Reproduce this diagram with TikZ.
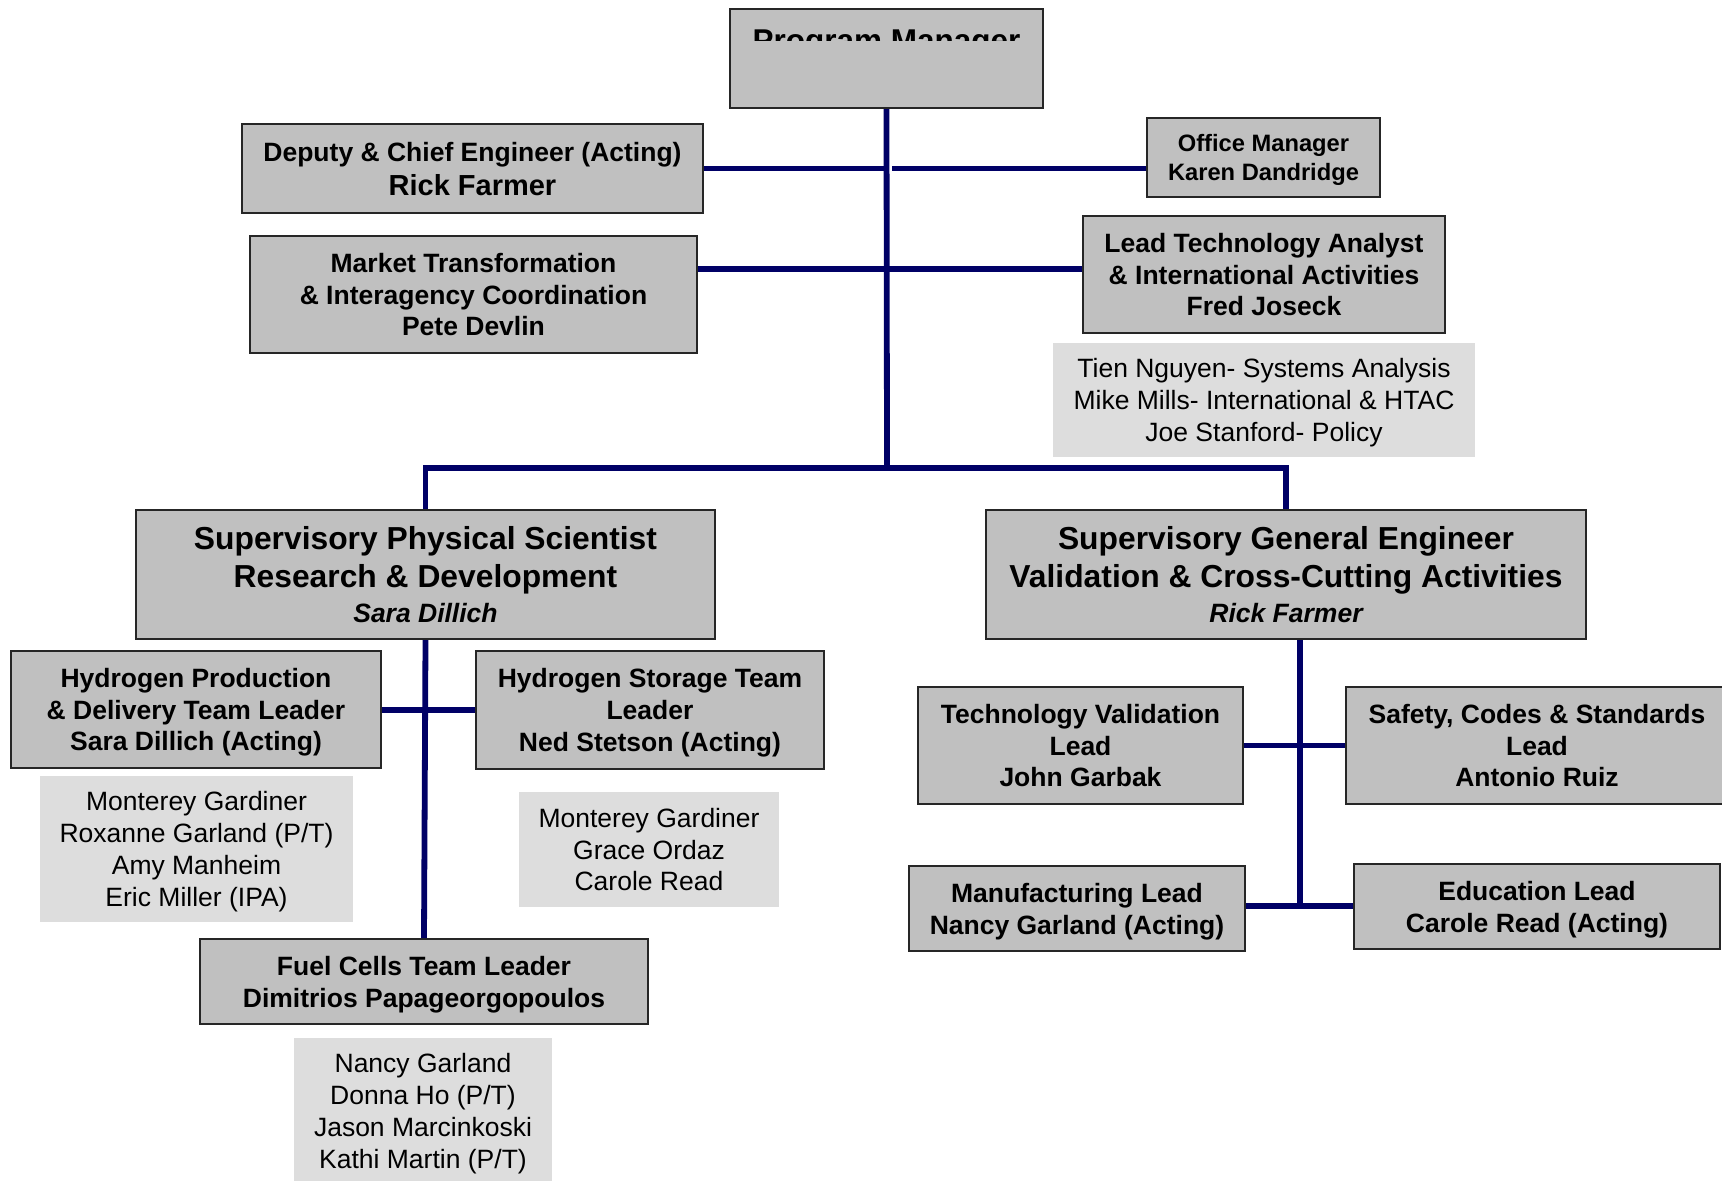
\documentclass[tikz,border=0pt]{standalone}
\usepackage{fontspec}
\setmainfont{Liberation Sans}
\usetikzlibrary{positioning}
\definecolor{boxgray}{RGB}{192,192,192}
\definecolor{staffgray}{RGB}{221,221,221}
\definecolor{linknavy}{RGB}{0,0,102}

\begin{document}
\begin{tikzpicture}[
    x=1pt, y=-1pt,
    box/.style={draw=black!85, line width=2pt, fill=boxgray, align=center, inner sep=0pt,
      text depth=0pt, font=\fontsize{26.5}{31.8}\selectfont\bfseries},
    staff/.style={fill=staffgray, align=center, inner sep=0pt,
      text depth=0pt, font=\fontsize{26.5}{31.8}\selectfont},
    head/.style={box, font=\fontsize{31.8}{38.4}\selectfont\bfseries},
    link/.style={draw=linknavy, line width=5.8pt}
  ]
    \useasboundingbox (0,0) rectangle (1722,1181);

    % top level
    \node[box, minimum width=313pt, minimum height=99pt] (pm) at (886.5,58.5) {};
    \begin{scope}
      \clip (730,9) rectangle (1043,40);
      \node[anchor=base, font=\fontsize{31.5}{38}\selectfont\bfseries] (pmtext) at (886.5,51) {Program Manager};
    \end{scope}
    \node[box, minimum width=461pt, minimum height=89pt] (deputy) at (472.5,168.5)
      {Deputy \& Chief Engineer (Acting)\\[2pt]{\fontsize{29}{34}\selectfont Rick Farmer}};
    \node[box, minimum width=233pt, minimum height=79pt, font=\fontsize{23.7}{28.5}\selectfont\bfseries]
      (office) at (1263.5,157.5) {Office Manager\\Karen Dandridge};
    \node[box, minimum width=447pt, minimum height=117pt] (market) at (473.5,294.5)
      {Market Transformation\\\& Interagency Coordination\\Pete Devlin};
    \node[box, minimum width=362pt, minimum height=117pt] (lta) at (1264,274.5)
      {Lead Technology Analyst\\\& International Activities\\Fred Joseck};
    \node[staff, minimum width=422pt, minimum height=114pt] (ltastaff) at (1264,400)
      {Tien Nguyen- Systems Analysis\\Mike Mills- International \& HTAC\\Joe Stanford- Policy};

    % supervisors
    \node[head, minimum width=579pt, minimum height=129pt] (sps) at (425.5,574.5)
      {Supervisory Physical Scientist\\Research \& Development\\[-3.4pt]{\fontsize{26.5}{31.8}\selectfont\itshape Sara Dillich}};
    \node[head, minimum width=600pt, minimum height=129pt] (sge) at (1286,574.5)
      {Supervisory General Engineer\\Validation \& Cross-Cutting Activities\\[-3.4pt]{\fontsize{26.5}{31.8}\selectfont\itshape Rick Farmer}};

    % research and development
    \node[box, minimum width=370pt, minimum height=117pt] (hpd) at (196,709.5)
      {Hydrogen Production\\\& Delivery Team Leader\\Sara Dillich (Acting)};
    \node[box, minimum width=348pt, minimum height=118pt] (hs) at (650,710)
      {Hydrogen Storage Team\\Leader\\Ned Stetson (Acting)};
    \node[staff, minimum width=313pt, minimum height=146pt] (hpdstaff) at (196.5,849)
      {Monterey Gardiner\\Roxanne Garland (P/T)\\Amy Manheim\\Eric Miller (IPA)};
    \node[staff, minimum width=260pt, minimum height=115pt] (hsstaff) at (649,849.5)
      {Monterey Gardiner\\Grace Ordaz\\Carole Read};
    \node[box, minimum width=448pt, minimum height=85pt] (fc) at (424,981.5)
      {Fuel Cells Team Leader\\Dimitrios Papageorgopoulos};
    \node[staff, minimum width=258pt, minimum height=146pt] (fcstaff) at (423,1111)
      {Nancy Garland\\Donna Ho (P/T)\\Jason Marcinkoski\\Kathi Martin (P/T)};

    % validation and cross-cutting
    \node[box, minimum width=325pt, minimum height=117pt] (tv) at (1080.5,745.5)
      {Technology Validation\\Lead\\John Garbak};
    \node[box, minimum width=382pt, minimum height=117pt] (scs) at (1537,745.5)
      {Safety, Codes \& Standards\\Lead\\Antonio Ruiz};
    \node[box, minimum width=336pt, minimum height=85pt] (mfg) at (1077,908.5)
      {Manufacturing Lead\\Nancy Garland (Acting)};
    \node[box, minimum width=366pt, minimum height=85pt] (edu) at (1537,906.5)
      {Education Lead\\Carole Read (Acting)};

    % connectors
    \coordinate (j1) at (887,168.5);
    \coordinate (j2) at (887,269);
    \coordinate (j3) at (887,468);
    \coordinate (jr) at (1300,906);
    \draw[link] (pm.south) -- (j3);
    \draw[link] (deputy.east |- j1) -- ([xshift=-2.9pt]j1);
    \draw[link] ([xshift=5pt]j1) -- (office.west |- j1);
    \draw[link] (market.east |- j2) -- (lta.west |- j2);
    \draw[link] (sps.north) |- (j3) -| (sge.north);
    \draw[link] (sps.south) -- (fc.north);
    \draw[link] (hpd.east |- hs.west) -- (hs.west);
    \draw[link] (sge.south -| jr) -- (jr);
    \draw[link] (tv.east) -- (scs.west);
    \draw[link] (mfg.east |- jr) -- (edu.west |- jr);
  \end{tikzpicture}
\end{document}
